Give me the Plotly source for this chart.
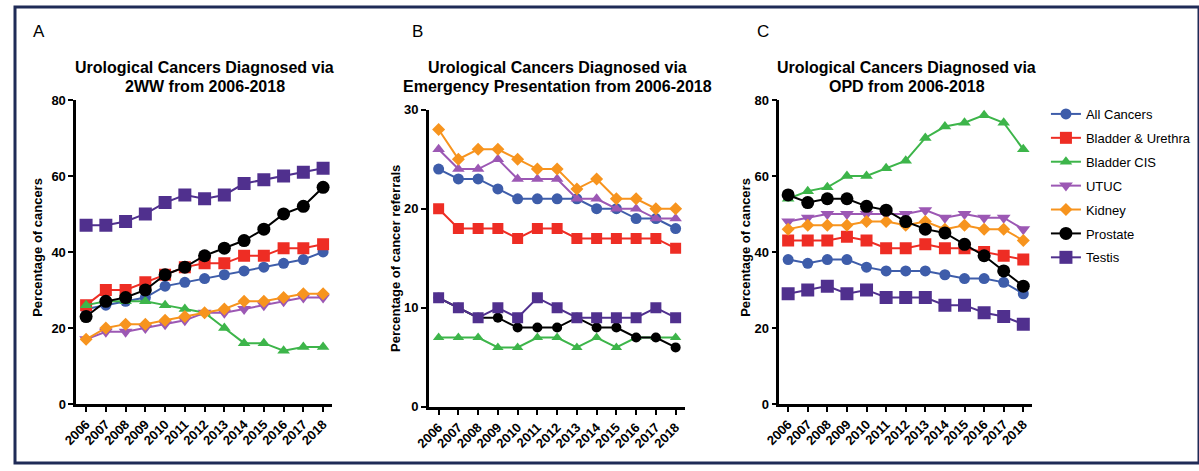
import plotly.graph_objects as go

years = list(range(2006, 2019))
series_names = ["All Cancers", "Bladder & Urethra", "Bladder CIS", "UTUC", "Kidney", "Prostate", "Testis"]

# Panel A: 2WW (% of cancers)
a_all = [25, 26, 27, 28, 31, 32, 33, 34, 35, 36, 37, 38, 40]
a_bladder = [26, 30, 30, 32, 34, 36, 37, 37, 39, 39, 41, 41, 42]
a_cis = [26, 27, 27, 27, 26, 25, 24, 20, 16, 16, 14, 15, 15]
a_utuc = [17, 19, 19, 20, 21, 22, 24, 24, 25, 26, 27, 28, 28]
a_kidney = [17, 20, 21, 21, 22, 23, 24, 25, 27, 27, 28, 29, 29]
a_prostate = [23, 27, 28, 30, 34, 36, 39, 41, 43, 46, 50, 52, 57]
a_testis = [47, 47, 48, 50, 53, 55, 54, 55, 58, 59, 60, 61, 62]

# Panel B: Emergency presentation (% of cancer referrals)
b_all = [24, 23, 23, 22, 21, 21, 21, 21, 20, 20, 19, 19, 18]
b_bladder = [20, 18, 18, 18, 17, 18, 18, 17, 17, 17, 17, 17, 16]
b_cis = [7, 7, 7, 6, 6, 7, 7, 6, 7, 6, 7, 7, 7]
b_utuc = [26, 24, 24, 25, 23, 23, 23, 21, 21, 20, 20, 19, 19]
b_kidney = [28, 25, 26, 26, 25, 24, 24, 22, 23, 21, 21, 20, 20]
b_prostate = [11, 10, 9, 9, 8, 8, 8, 9, 8, 8, 7, 7, 6]
b_testis = [11, 10, 9, 10, 9, 11, 10, 9, 9, 9, 9, 10, 9]

# Panel C: OPD (% of cancers)
c_all = [38, 37, 38, 38, 36, 35, 35, 35, 34, 33, 33, 32, 29]
c_bladder = [43, 43, 43, 44, 43, 41, 41, 42, 41, 41, 40, 39, 38]
c_cis = [54, 56, 57, 60, 60, 62, 64, 70, 73, 74, 76, 74, 67]
c_utuc = [48, 49, 50, 50, 50, 50, 50, 51, 49, 50, 49, 49, 46]
c_kidney = [46, 47, 47, 47, 48, 48, 47, 48, 46, 47, 46, 46, 43]
c_prostate = [55, 53, 54, 54, 52, 51, 48, 46, 45, 42, 39, 35, 31]
c_testis = [29, 30, 31, 29, 30, 28, 28, 28, 26, 26, 24, 23, 21]

panel_titles = [
    ["Urological Cancers Diagnosed via", "2WW from 2006-2018"],
    ["Urological Cancers Diagnosed via", "Emergency Presentation from 2006-2018"],
    ["Urological Cancers Diagnosed via", "OPD from 2006-2018"],
]
panel_letters = ["A", "B", "C"]
y_titles = ["Percentage of cancers", "Percentage of cancer referrals", "Percentage of cancers"]
y_ticks = [[0, 20, 40, 60, 80], [0, 10, 20, 30], [0, 20, 40, 60, 80]]
y_ranges = [[0, 80], [0, 30], [0, 80]]

colors = ["#3E5DAA", "#EE2D24", "#3DB54A", "#9C58B4", "#F7941E", "#000000", "#50308E"]
symbols_ac = ["circle", "square", "triangle-up", "triangle-down", "diamond", "circle", "square"]
symbols_b = ["circle", "square", "triangle-up", "triangle-up", "diamond", "circle", "square"]
sizes_a = [11, 12, 11, 12, 10, 13, 13]
sizes_b = [11, 11, 10, 11, 10, 10, 11]
sizes_c = [11, 12, 11, 12, 10, 13, 13]

panels = [
    [a_all, a_bladder, a_cis, a_utuc, a_kidney, a_prostate, a_testis],
    [b_all, b_bladder, b_cis, b_utuc, b_kidney, b_prostate, b_testis],
    [c_all, c_bladder, c_cis, c_utuc, c_kidney, c_prostate, c_testis],
]

W, H = 1199, 471
def px_x(p):
    return p / W
def px_y(p):
    return 1 - p / H

x_domains = [[px_x(62), px_x(321)], [px_x(419), px_x(678)], [px_x(774), px_x(1030)]]
y_domains = [[px_y(410), px_y(96)], [px_y(413), px_y(106)], [px_y(410), px_y(96)]]
x_ranges = [[2005.5, 2018.45], [2005.5, 2018.45], [2005.55, 2018.45]]

FONT = "Liberation Sans, Arial, sans-serif"

fig = go.Figure()
for pi, data in enumerate(panels):
    xa = "x" if pi == 0 else f"x{pi+1}"
    ya = "y" if pi == 0 else f"y{pi+1}"
    syms = symbols_b if pi == 1 else symbols_ac
    sizes = [sizes_a, sizes_b, sizes_c][pi]
    for si, vals in enumerate(data):
        fig.add_trace(go.Scatter(
            x=years, y=vals, mode="lines+markers", name=series_names[si],
            line=dict(color=colors[si], width=2),
            marker=dict(symbol=syms[si], size=sizes[si], color=colors[si], line=dict(width=0)),
            xaxis=xa, yaxis=ya, showlegend=(pi == 0), legendgroup=f"g{si}",
        ))

layout = dict(
    width=W, height=H, autosize=False,
    margin=dict(l=0, r=0, t=0, b=0),
    paper_bgcolor="white", plot_bgcolor="white",
    font=dict(family=FONT, color="black"),
    legend=dict(
        x=px_x(1044), y=px_y(95), xanchor="left", yanchor="top",
        font=dict(family=FONT, size=13, color="black"),
        tracegroupgap=4, itemwidth=30, bgcolor="rgba(0,0,0,0)",
    ),
)

axis_common_x = dict(
    tickmode="array", tickvals=years, ticktext=[str(y) for y in years],
    tickangle=-45, ticks="outside", ticklen=5, tickwidth=2, tickcolor="black",
    showline=True, linecolor="black", linewidth=2.5, showgrid=False, zeroline=False,
    tickfont=dict(family=FONT, size=13, color="black", weight="bold"),
)
axis_common_y = dict(
    ticks="outside", ticklen=5, tickwidth=2, tickcolor="black",
    showline=True, linecolor="black", linewidth=2.5, showgrid=False, zeroline=False,
    tickfont=dict(family=FONT, size=13, color="black", weight="bold"),
)

for pi in range(3):
    xk = "xaxis" if pi == 0 else f"xaxis{pi+1}"
    yk = "yaxis" if pi == 0 else f"yaxis{pi+1}"
    yref = "y" if pi == 0 else f"y{pi+1}"
    xref = "x" if pi == 0 else f"x{pi+1}"
    layout[xk] = dict(axis_common_x, domain=x_domains[pi], range=x_ranges[pi], anchor=yref)
    layout[yk] = dict(axis_common_y, domain=y_domains[pi], range=y_ranges[pi], anchor=xref,
                      tickvals=y_ticks[pi])

fig.update_layout(**layout)

# titles, panel letters, y titles
title_cx = [192, 549, 903]
letter_x = [24, 408, 757]
ytitle_x = [22, 386, 739]
ytitle_y = [248, 260, 248]
for pi in range(3):
    for li, line in enumerate(panel_titles[pi]):
        fig.add_annotation(
            x=px_x(title_cx[pi]), y=px_y(63 + li * 19), xref="paper", yref="paper",
            text=line, showarrow=False, xanchor="center", yanchor="middle",
            font=dict(family=FONT, size=16, color="black", weight="bold"),
        )
    fig.add_annotation(
        x=px_x(letter_x[pi]), y=px_y(25), xref="paper", yref="paper",
        text=panel_letters[pi], showarrow=False, xanchor="center", yanchor="middle",
        font=dict(family=FONT, size=17, color="black"),
    )
    fig.add_annotation(
        x=px_x(ytitle_x[pi]), y=px_y(ytitle_y[pi]), xref="paper", yref="paper",
        text=y_titles[pi], showarrow=False, textangle=-90, xanchor="center", yanchor="middle",
        font=dict(family=FONT, size=13, color="black", weight="bold"),
    )

# outer frame
fig.add_shape(type="rect", xref="paper", yref="paper", x0=0, y0=0, x1=1, y1=1,
              line=dict(color="#1F2B57", width=3), fillcolor="rgba(0,0,0,0)", layer="above")

fig.write_html(
    "out.html",
    config={"displayModeBar": False},
    post_script="document.body.style.margin='0';document.body.style.padding='0';"
                "document.documentElement.style.margin='0';document.documentElement.style.overflow='hidden';",
)
